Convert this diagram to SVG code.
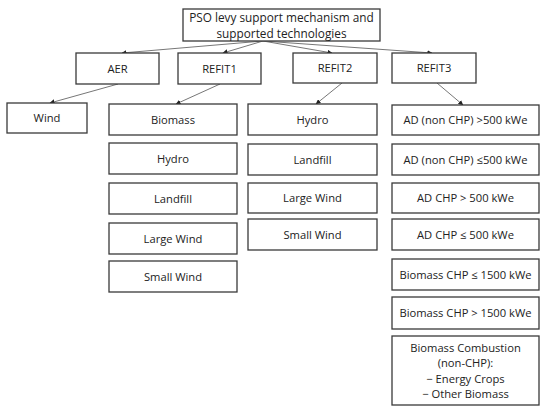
<svg xmlns="http://www.w3.org/2000/svg" width="550" height="413" viewBox="0 0 550 413">
<style>
.b{fill:#fff;stroke:#3a3a3a;stroke-width:1.3}
.t{font-family:"Open Sans","Liberation Sans",sans-serif;font-size:11.2px;fill:#222;text-anchor:middle}
.tt{font-size:11.8px}
.c{stroke:#777;stroke-width:1;fill:none;marker-end:url(#a)}
</style>
<defs>
<marker id="a" viewBox="0 0 6 6" refX="5.5" refY="3" markerWidth="5" markerHeight="5" orient="auto" markerUnits="userSpaceOnUse">
<path d="M0,0L6,3L0,6z" fill="#222"/>
</marker>
</defs>
<rect width="550" height="413" fill="#fff"/>
<g id="connectors">
<line class="c" x1="263" y1="41" x2="122" y2="53"/>
<line class="c" x1="263" y1="41" x2="223" y2="53"/>
<line class="c" x1="263" y1="41" x2="332" y2="53"/>
<line class="c" x1="263" y1="41" x2="432" y2="53"/>
<line class="c" x1="118" y1="84" x2="50" y2="103"/>
<line class="c" x1="220" y1="84" x2="176" y2="104"/>
<line class="c" x1="342" y1="83" x2="316" y2="104"/>
<line class="c" x1="437" y1="83" x2="463" y2="105"/>
</g>
<g id="root"><rect class="b" x="183" y="9" width="197" height="32"/><text class="t tt" x="281.5" y="22">PSO levy support mechanism and</text><text class="t tt" x="281.5" y="37.5">supported technologies</text></g>
<g id="aer"><rect class="b" x="76" y="53" width="83" height="31"/><text class="t" x="117.5" y="72.5">AER</text></g>
<g id="refit1"><rect class="b" x="178" y="53" width="83" height="31"/><text class="t" x="219.5" y="72.5">REFIT1</text></g>
<g id="refit2"><rect class="b" x="293" y="53" width="84" height="30"/><text class="t" x="335" y="72">REFIT2</text></g>
<g id="refit3"><rect class="b" x="392" y="53" width="84" height="30"/><text class="t" x="434" y="72">REFIT3</text></g>
<g id="wind"><rect class="b" x="7" y="103" width="80" height="30"/><text class="t" x="47" y="122">Wind</text></g>
<g id="r1-biomass"><rect class="b" x="109" y="104" width="128" height="31"/><text class="t" x="173" y="123.5">Biomass</text></g>
<g id="r1-hydro"><rect class="b" x="109" y="143" width="128" height="31"/><text class="t" x="173" y="162.5">Hydro</text></g>
<g id="r1-landfill"><rect class="b" x="109" y="183" width="128" height="31"/><text class="t" x="173" y="202.5">Landfill</text></g>
<g id="r1-largewind"><rect class="b" x="109" y="223" width="128" height="31"/><text class="t" x="173" y="242.5">Large Wind</text></g>
<g id="r1-smallwind"><rect class="b" x="109" y="261" width="128" height="31"/><text class="t" x="173" y="280.5">Small Wind</text></g>
<g id="r2-hydro"><rect class="b" x="248" y="104" width="129" height="31"/><text class="t" x="312.5" y="123.5">Hydro</text></g>
<g id="r2-landfill"><rect class="b" x="248" y="144" width="129" height="31"/><text class="t" x="312.5" y="163.5">Landfill</text></g>
<g id="r2-largewind"><rect class="b" x="248" y="183" width="129" height="30"/><text class="t" x="312.5" y="202">Large Wind</text></g>
<g id="r2-smallwind"><rect class="b" x="248" y="219" width="129" height="31"/><text class="t" x="312.5" y="238.5">Small Wind</text></g>
<g id="r3-ad1"><rect class="b" x="392" y="105" width="147" height="30"/><text class="t" x="465.5" y="124">AD (non CHP) &gt;500 kWe</text></g>
<g id="r3-ad2"><rect class="b" x="392" y="144" width="147" height="31"/><text class="t" x="465.5" y="163.5">AD (non CHP) ≤500 kWe</text></g>
<g id="r3-ad3"><rect class="b" x="392" y="183" width="147" height="30"/><text class="t" x="465.5" y="202">AD CHP &gt; 500 kWe</text></g>
<g id="r3-ad4"><rect class="b" x="392" y="219" width="147" height="31"/><text class="t" x="465.5" y="238.5">AD CHP ≤ 500 kWe</text></g>
<g id="r3-b1"><rect class="b" x="392" y="259" width="147" height="31"/><text class="t" x="465.5" y="278.5">Biomass CHP ≤ 1500 kWe</text></g>
<g id="r3-b2"><rect class="b" x="392" y="297" width="147" height="32"/><text class="t" x="465.5" y="317">Biomass CHP &gt; 1500 kWe</text></g>
<g id="r3-b3"><rect class="b" x="392" y="336" width="147" height="69"/><text class="t" x="465.5" y="352">Biomass Combustion</text><text class="t" x="465.5" y="367">(non-CHP):</text><text class="t" x="465.5" y="383">− Energy Crops</text><text class="t" x="465.5" y="398">− Other Biomass</text></g>
</svg>
